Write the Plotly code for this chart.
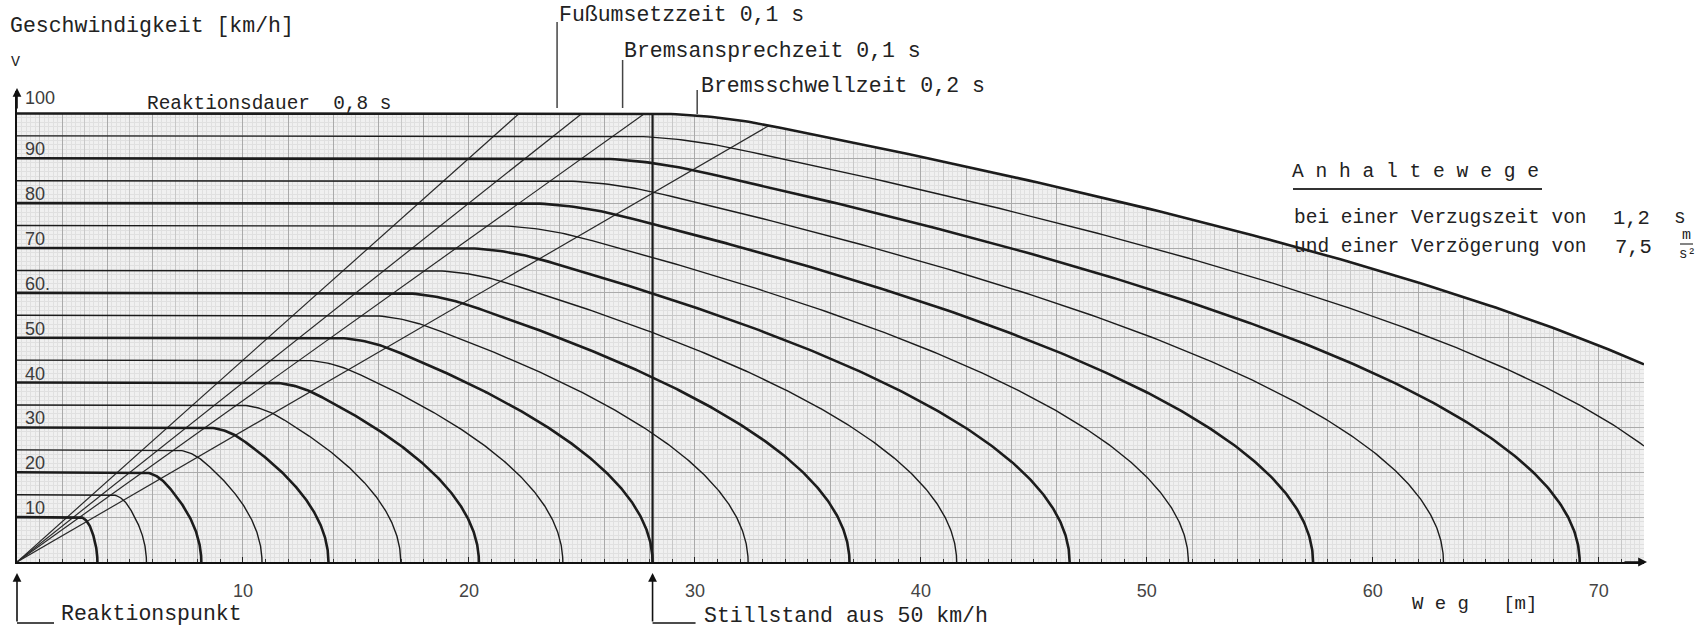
import numpy as np
import plotly.graph_objects as go

# ---------------- data ----------------
speeds_kmh = [10, 15, 20, 25, 30, 35, 40, 45, 50, 55, 60, 65, 70, 75, 80, 85, 90, 95, 100]
bold_speeds_kmh = [10, 20, 30, 40, 50, 60, 70, 80, 90, 100]
reaction_time_s = 0.8        # Reaktionsdauer
foot_time_s = 0.1            # Fußumsetzzeit
response_time_s = 0.1        # Bremsansprechzeit
threshold_time_s = 0.2       # Bremsschwellzeit
deceleration = 7.5           # m/s²
time_line_s = [0.8, 0.9, 1.0]          # diagonal time lines from the origin
phase_marks_m = [23.9, 26.8, 30.1]     # pointer positions of the phase labels
halt_speed_kmh = 50                    # "Stillstand aus 50 km/h"
x_tick_vals = [10, 20, 30, 40, 50, 60, 70]
y_label_vals = [10, 20, 30, 40, 50, 60, 70, 80, 90, 100]
y_label_text = ["10", "20", "30", "40", "50", "60.", "70", "80", "90", "100"]

X_MAX, Y_MAX = 72.0, 105.0

# ---------------- geometry ----------------
W, H = 1704, 630
ML, MR, MT, MB = 17, 60, 91, 68
PW, PH = W - ML - MR, H - MT - MB
Y0 = H - MB


def pxx(xp):
    return (xp - ML) / PW


def pyy(yp):
    return (Y0 - yp) / PH


def stopping_curve(v0_kmh):
    v0 = v0_kmh / 3.6
    a = deceleration
    T = threshold_time_s
    t_const = reaction_time_s + foot_time_s + response_time_s
    s0 = v0 * t_const
    tp = np.linspace(0, T, 25)
    s_th = s0 + v0 * tp - a * tp ** 3 / (6 * T)
    v_th = v0 - a * tp ** 2 / (2 * T)
    v1, s1 = v_th[-1], s_th[-1]
    vb = np.linspace(v1, 0, 200)
    s_b = s1 + (v1 ** 2 - vb ** 2) / (2 * a)
    s = np.concatenate([[0.0], s_th, s_b[1:]])
    v = np.concatenate([[v0], v_th, vb[1:]]) * 3.6
    return s, v, s1, v1 * 3.6


def clip_x(s, v, xmax):
    if s[-1] <= xmax:
        return s, v
    idx = np.searchsorted(s, xmax)
    vx = np.interp(xmax, s, v)
    return np.concatenate([s[:idx], [xmax]]), np.concatenate([v[:idx], [vx]])


fig = go.Figure()

# white mask above the envelope (hides the graph paper there)
s_env, v_env, s1_top, v1_top = stopping_curve(max(speeds_kmh))
s_env_c, v_env_c = clip_x(s_env, v_env, X_MAX)
fig.add_trace(go.Scatter(
    x=np.concatenate([s_env_c, [X_MAX, X_MAX, 0, 0]]),
    y=np.concatenate([v_env_c, [v_env_c[-1], Y_MAX, Y_MAX, v_env_c[0]]]),
    fill="toself", fillcolor="white", mode="lines", line=dict(width=0),
    hoverinfo="skip", showlegend=False))

# diagonal time lines
v_top = max(speeds_kmh)
for t in time_line_s:
    fig.add_trace(go.Scatter(x=[0, v_top / 3.6 * t], y=[0, v_top], mode="lines",
                             line=dict(color="#2a2a2a", width=1.2),
                             hoverinfo="skip", showlegend=False))
fig.add_trace(go.Scatter(x=[0, s1_top], y=[0, v1_top], mode="lines",
                         line=dict(color="#2a2a2a", width=1.2),
                         hoverinfo="skip", showlegend=False))

# stopping curves
for vk in speeds_kmh:
    s, v, _, _ = stopping_curve(vk)
    s, v = clip_x(s, v, X_MAX)
    bold = vk in bold_speeds_kmh
    fig.add_trace(go.Scatter(x=s, y=v, mode="lines",
                             line=dict(color="#1c1c1c", width=2.6 if bold else 1.4),
                             hoverinfo="skip", showlegend=False))

# vertical line: stop from 50 km/h
s50, v50, _, _ = stopping_curve(halt_speed_kmh)
d50 = s50[-1]
v_at_d50 = float(np.interp(d50, s_env, v_env))
fig.add_trace(go.Scatter(x=[d50, d50], y=[0, v_at_d50], mode="lines",
                         line=dict(color="#1c1c1c", width=2.2),
                         hoverinfo="skip", showlegend=False))

# dummy traces for graph-paper grid axes
fig.add_trace(go.Scatter(x=[None], y=[None], xaxis="x2", yaxis="y2", showlegend=False, hoverinfo="skip"))
fig.add_trace(go.Scatter(x=[None], y=[None], xaxis="x3", yaxis="y3", showlegend=False, hoverinfo="skip"))

MONO = "Liberation Mono"
SANS = "Liberation Sans"
TXT = "#222222"
ann = []


def text(xp, yp, t, size, anchor="left", family=MONO, color=TXT):
    ann.append(dict(x=pxx(xp), y=pyy(yp), xref="paper", yref="paper", text=t,
                    showarrow=False, xanchor=anchor, yanchor="middle", borderpad=0,
                    font=dict(family=family, size=size, color=color)))


text(9, 26, "Geschwindigkeit [km/h]", 21.5)
text(15, 62, "V", 15, anchor="center")
text(146, 104, "Reaktionsdauer  0,8 s", 19.4)
text(558, 15, "Fußumsetzzeit 0,1 s", 21.5)
text(623, 51, "Bremsansprechzeit 0,1 s", 21.5)
text(700, 86, "Bremsschwellzeit 0,2 s", 21.5)
text(60, 614, "Reaktionspunkt", 21.5)
text(703, 616, "Stillstand aus 50 km/h", 21.5)
text(1411, 604, "W e g   [m]", 19)
text(1291, 172, "A n h a l t e w e g e", 19.6)
text(1293, 218, "bei einer Verzugszeit von", 19.5)
text(1612, 218, "1,2", 20.5)
text(1680, 218, "s", 19.5, anchor="center")
text(1293, 247, "und einer Verzögerung von", 19.5)
text(1614, 247, "7,5", 20.5)
text(1686, 235, "m", 15, anchor="center")
text(1687, 254, "s²", 14, anchor="center")

# y labels above each 10 km/h line
for val, lab in zip(y_label_vals, y_label_text):
    ann.append(dict(x=0.25, y=val, xref="x", yref="y", text=lab, showarrow=False,
                    xanchor="left", yanchor="middle", yshift=15 if val == 100 else 9,
                    font=dict(family=SANS, size=18, color="#3c3c3c")))

# arrows
ann.append(dict(x=pxx(ML), y=pyy(88), xref="paper", yref="paper", ax=0, ay=22, text="",
                showarrow=True, arrowhead=2, arrowsize=1.1, arrowwidth=1.6, arrowcolor="#111"))
ann.append(dict(x=pxx(1647), y=pyy(Y0), xref="paper", yref="paper", ax=-24, ay=0, text="",
                showarrow=True, arrowhead=2, arrowsize=1.1, arrowwidth=1.6, arrowcolor="#111"))
for xs in [0.0, d50]:
    ann.append(dict(x=xs / X_MAX, y=pyy(573), xref="paper", yref="paper", ax=0, ay=50, text="",
                    showarrow=True, arrowhead=2, arrowsize=1.1, arrowwidth=1.6, arrowcolor="#111"))

shapes = []
for xs, ln in [(0.0, 37), (d50, 43)]:
    x0 = xs / X_MAX
    shapes.append(dict(type="line", xref="paper", yref="paper", x0=x0, x1=x0 + ln / PW,
                       y0=pyy(623), y1=pyy(623), line=dict(color="#111", width=1.6)))
# phase pointers
for xs, ytop, ybot in zip(phase_marks_m, [22, 60, 90], [108, 108, 114]):
    shapes.append(dict(type="line", xref="paper", yref="paper", x0=xs / X_MAX, x1=xs / X_MAX,
                       y0=pyy(ytop), y1=pyy(ybot), line=dict(color="#444", width=1.5)))
# underline of "Anhaltewege"
shapes.append(dict(type="line", xref="paper", yref="paper", x0=pxx(1293), x1=pxx(1542),
                   y0=pyy(189), y1=pyy(189), line=dict(color="#333", width=2)))
# fraction bar of m/s²
shapes.append(dict(type="line", xref="paper", yref="paper", x0=pxx(1680), x1=pxx(1693),
                   y0=pyy(244), y1=pyy(244), line=dict(color="#333", width=1.2)))

grid_off = dict(showticklabels=False, ticks="", showline=False, zeroline=False)

fig.update_layout(
    width=W, height=H, autosize=False,
    margin=dict(l=ML, r=MR, t=MT, b=MB, pad=0),
    paper_bgcolor="white", plot_bgcolor="#f0f0f0",
    showlegend=False,
    annotations=ann, shapes=shapes,
    xaxis=dict(range=[0, X_MAX], showgrid=False, zeroline=False,
               showline=True, linecolor="#111", linewidth=1.6,
               tickmode="array", tickvals=x_tick_vals, ticktext=[str(v) for v in x_tick_vals],
               ticks="inside", ticklen=5, tickcolor="#222", tickwidth=1.3,
               ticklabelstandoff=12,
               tickfont=dict(family=SANS, size=18, color="#444"),
               minor=dict(dtick=1, tick0=0, ticks="inside", ticklen=3, tickcolor="#333", showgrid=False)),
    yaxis=dict(range=[0, Y_MAX], showgrid=False, zeroline=False,
               showline=True, linecolor="#111", linewidth=1.6,
               showticklabels=False, ticks=""),
    xaxis2=dict(overlaying="x", range=[0, X_MAX], showgrid=True, dtick=1, tick0=0,
                gridcolor="#c8c8c8", gridwidth=1,
                minor=dict(dtick=0.2, tick0=0, showgrid=True, gridcolor="#e0e0e0", gridwidth=0.6),
                **grid_off),
    yaxis2=dict(overlaying="y", range=[0, Y_MAX], showgrid=True, dtick=5, tick0=0,
                gridcolor="#c8c8c8", gridwidth=1,
                minor=dict(dtick=1, tick0=0, showgrid=True, gridcolor="#e0e0e0", gridwidth=0.6),
                **grid_off),
    xaxis3=dict(overlaying="x", range=[0, X_MAX], showgrid=True, dtick=2, tick0=0,
                gridcolor="#aaaaaa", gridwidth=1, **grid_off),
    yaxis3=dict(overlaying="y", range=[0, Y_MAX], showgrid=True, dtick=10, tick0=0,
                gridcolor="#aaaaaa", gridwidth=1, **grid_off),
)

fig.write_html("out.html", config={"displayModeBar": False},
               post_script="document.body.style.margin='0';document.body.style.overflow='hidden';")
